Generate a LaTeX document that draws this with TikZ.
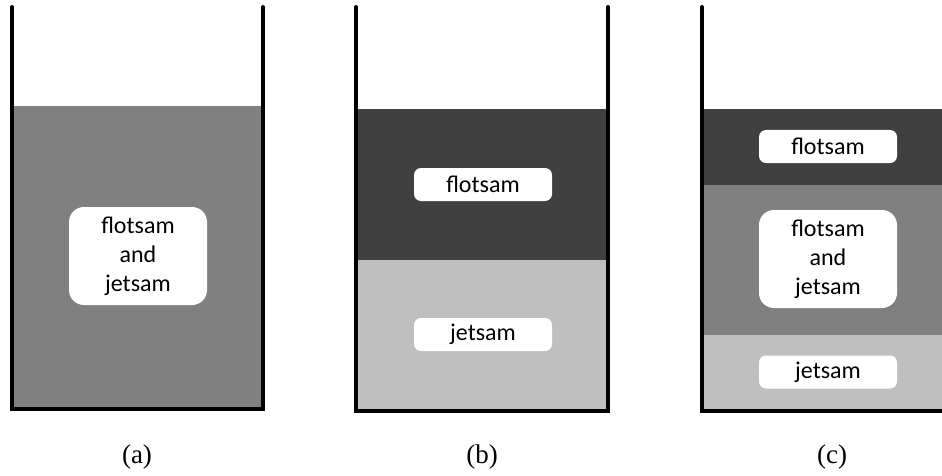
\documentclass[tikz,border=0pt]{standalone}
\usepackage{fontspec}
\setmainfont{Liberation Serif}
\newfontfamily\tagfont{Carlito}
\usepackage{xcolor}
\usepackage{tikz}

\definecolor{mixgray}{HTML}{808080}
\definecolor{flotgray}{HTML}{404040}
\definecolor{jetgray}{HTML}{BFBFBF}

\tikzset{
  wall/.style={line width=4pt, line cap=round, line join=miter},
  tagbox/.style={fill=white, rounded corners=7pt, minimum width=138pt,
    minimum height=33pt, inner sep=0pt, font=\tagfont\fontsize{24}{29}\selectfont},
  bigtag/.style={tagbox, rounded corners=15pt, minimum height=98pt, align=center},
  panellabel/.style={font=\fontsize{27}{32}\selectfont}
}

\begin{document}
\begin{tikzpicture}[x=1pt,y=-1pt]
\clip (0,0) rectangle (942,476);
% (a) mixed bed
\fill[mixgray] (12,106) rectangle (263,409);
\draw[wall] (12,7) -- (12,409) -- (263,409) -- (263,7);
\node[bigtag] (mixA) at (138,256) {flotsam\\and\\jetsam};
\node[panellabel] (capA) at (137,457) {(a)};

% (b) fully segregated
\fill[flotgray] (356,109) rectangle (608,260);
\fill[jetgray] (356,260) rectangle (608,411);
\draw[wall] (356,7) -- (356,411) -- (608,411) -- (608,7);
\node[tagbox] (flotB) at (483,184.5) {flotsam};
\node[tagbox] (jetB) at (483,334.5) {jetsam};
\node[panellabel] (capB) at (482,457) {(b)};

% (c) partly segregated
\fill[flotgray] (702,109) rectangle (954,185);
\fill[mixgray] (702,185) rectangle (954,335);
\fill[jetgray] (702,335) rectangle (954,411);
\draw[wall] (702,7) -- (702,411) -- (954,411) -- (954,7);
\node[tagbox] (flotC) at (828,146.5) {flotsam};
\node[bigtag] (mixC) at (828,259) {flotsam\\and\\jetsam};
\node[tagbox] (jetC) at (828,372) {jetsam};
\node[panellabel] (capC) at (832,457) {(c)};
\end{tikzpicture}
\end{document}
